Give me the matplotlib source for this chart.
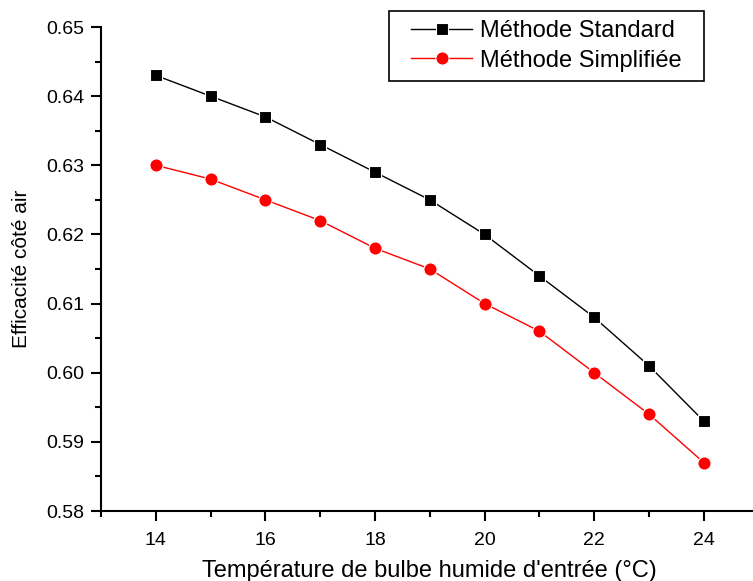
import matplotlib
matplotlib.use("Agg")
import matplotlib.pyplot as plt
from matplotlib.ticker import MultipleLocator
from matplotlib.patches import Rectangle

temp = [14, 15, 16, 17, 18, 19, 20, 21, 22, 23, 24]
standard = [0.643, 0.640, 0.637, 0.633, 0.629, 0.625, 0.620, 0.614, 0.608, 0.601, 0.593]
simplifiee = [0.630, 0.628, 0.625, 0.622, 0.618, 0.615, 0.610, 0.606, 0.600, 0.594, 0.587]

plt.rcParams['font.family'] = ['Liberation Sans', 'DejaVu Sans']

fig = plt.figure(figsize=(7.53, 5.81), dpi=100)
ax = fig.add_axes([101 / 753, 1 - 511 / 581, 657.6 / 753, 484 / 581])

ax.plot(temp, standard, color='black', lw=1, marker='s', ms=9,
        mec='white', mew=0.8, label='Méthode Standard')
ax.plot(temp, simplifiee, color='red', lw=1, marker='o', ms=9.5,
        mec='white', mew=0.8, label='Méthode Simplifiée')

ax.set_xlim(13, 25)
ax.set_ylim(0.58, 0.65)
ax.xaxis.set_major_locator(MultipleLocator(2))
ax.xaxis.set_minor_locator(MultipleLocator(1))
ax.yaxis.set_major_locator(MultipleLocator(0.01))
ax.yaxis.set_minor_locator(MultipleLocator(0.005))
ax.yaxis.set_major_formatter(plt.FormatStrFormatter('%.2f'))

for s in ['top', 'right']:
    ax.spines[s].set_visible(False)
for s in ['left', 'bottom']:
    ax.spines[s].set_linewidth(1.5)
ax.tick_params(which='major', direction='out', length=7, width=1.5, labelsize=14)
ax.tick_params(axis='x', which='major', pad=8)
ax.tick_params(axis='y', which='major', pad=5)
ax.tick_params(which='minor', direction='out', length=4, width=1.5)

ax.set_xlabel("Température de bulbe humide d'entrée (°C)", fontsize=17, labelpad=8)
ax.set_ylabel("Efficacité côté air", fontsize=15, labelpad=11)

leg = ax.legend(loc='upper left', bbox_to_anchor=(402 / 753, 1 - 11 / 581),
                bbox_transform=fig.transFigure, borderaxespad=0, fontsize=17,
                frameon=False, handlelength=2.55, handletextpad=0.35,
                borderpad=0.4, labelspacing=0.3)

# legend frame with wider side padding, like the original
fig.canvas.draw()
bb = leg.get_window_extent()
fig.patches.append(Rectangle((bb.x0 - 13, bb.y0), bb.width + 26, bb.height,
                             transform=None, fill=False, ec='black', lw=1.2))

fig.savefig('out.png', dpi=100)
